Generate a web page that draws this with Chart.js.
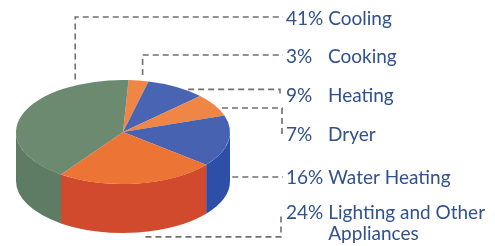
<!DOCTYPE html>
<html>
<head>
<meta charset="utf-8">
<script src="https://cdn.jsdelivr.net/npm/chart.js"></script>
<style>
  html, body { margin: 0; padding: 0; background: #fff; }
  #wrap { width: 495px; height: 246px; }
</style>
</head>
<body>
<div id="wrap"><canvas id="pie"></canvas></div>
<script>
// slices go clockwise starting near the top
const categories = ['Cooking', 'Heating', 'Dryer', 'Water Heating', ['Lighting and Other', 'Appliances'], 'Cooling'];
const shares = [3, 9, 7, 16, 24, 41];
const pctLabels = ['3%', '9%', '7%', '16%', '24%', '41%'];

const topColors = ['#ef8646', '#4964b2', '#ef8646', '#4762b0', '#ec7434', '#6b8a70'];
const sideColors = ['#e06a30', '#2f50a6', '#e06a30', '#2d4fa8', '#d14a2e', '#5e7c63'];

const TILT = 52 / 107;   // squash of the top face
const DEPTH = 49;        // height of the side wall

// where each label sits and how its leader line runs
const rows = [
    { base: 63,  frac: 0.7,  route: 'up' },
    { base: 102, frac: 0.65, route: 'tick' },
    { base: 141, frac: 0.65, route: 'down' },
    { base: 184, frac: 0.5,  route: 'side' },
    { base: 219, frac: 0.45, route: 'bottom' },
    { base: 25,  frac: 0.8,  route: 'up' }
];

function arcGeom(arc) {
    var p = arc.getProps(['x', 'y', 'startAngle', 'endAngle', 'outerRadius'], true);
    p.rx = p.outerRadius;
    p.ry = p.outerRadius * TILT;
    return p;
}

var pie3d = {
    id: 'pie3d',
    beforeDatasetsDraw: function(chart) {
        var ctx = chart.ctx;
        var arcs = chart.getDatasetMeta(0).data;
        // side walls, only the front half (0..PI) shows
        arcs.forEach(function(arc, i) {
            var p = arcGeom(arc);
            for (var k = -1; k <= 1; k++) {
                var a = Math.max(p.startAngle, 2 * Math.PI * k);
                var b = Math.min(p.endAngle, Math.PI + 2 * Math.PI * k);
                if (b <= a) continue;
                ctx.beginPath();
                ctx.ellipse(p.x, p.y, p.rx, p.ry, 0, a, b, false);
                ctx.ellipse(p.x, p.y + DEPTH, p.rx, p.ry, 0, b, a, true);
                ctx.closePath();
                ctx.fillStyle = sideColors[i];
                ctx.fill();
            }
        });
        // squash the pie the library draws next
        var c = arcGeom(arcs[0]);
        ctx.save();
        ctx.translate(c.x, c.y);
        ctx.scale(1, TILT);
        ctx.translate(-c.x, -c.y);
    },
    afterDatasetsDraw: function(chart) {
        chart.ctx.restore();
    },
    afterDraw: function(chart) {
        var ctx = chart.ctx;
        var arcs = chart.getDatasetMeta(0).data;

        ctx.save();
        ctx.setLineDash([6, 4]);
        ctx.strokeStyle = '#6f6f6f';
        ctx.lineWidth = 1.6;
        arcs.forEach(function(arc, i) {
            var p = arcGeom(arc);
            var r = rows[i];
            var t = p.startAngle + r.frac * (p.endAngle - p.startAngle);
            var px = p.x + p.rx * Math.cos(t);
            var py = p.y + p.ry * Math.sin(t);
            var mid = r.base - 7;
            ctx.beginPath();
            if (r.route == 'up') {
                ctx.moveTo(px, py - 6);
                ctx.lineTo(px, mid - 1);
                ctx.lineTo(283, mid - 1);
            } else if (r.route == 'tick') {
                ctx.moveTo(px + 4, py);
                ctx.lineTo(280, py);
                ctx.lineTo(280, mid);
            } else if (r.route == 'down') {
                ctx.moveTo(px + 4, py);
                ctx.lineTo(282, py);
                ctx.lineTo(282, mid);
            } else if (r.route == 'side') {
                ctx.moveTo(px + 4, mid);
                ctx.lineTo(283, mid);
            } else {
                var y = py + DEPTH + 5;
                ctx.moveTo(px, y);
                ctx.lineTo(281, y);
                ctx.lineTo(281, r.base - 5);
            }
            ctx.stroke();
        });
        ctx.restore();

        ctx.save();
        ctx.font = '19px Lato';
        ctx.fillStyle = '#30508f';
        ctx.textBaseline = 'alphabetic';
        categories.forEach(function(name, i) {
            var base = rows[i].base;
            ctx.fillText(pctLabels[i], 286, base);
            var nx = Math.max(328, 286 + ctx.measureText(pctLabels[i]).width + 5);
            var lines = Array.isArray(name) ? name : [name];
            lines.forEach(function(line, j) {
                ctx.fillText(line, nx, base + j * 21);
            });
        });
        ctx.restore();
    }
};

var ctx = document.getElementById('pie').getContext('2d');

var data = {
    labels: categories,
    datasets: [
        {
            data: shares,
            backgroundColor: topColors,
            borderWidth: 0,
            radius: 107
        }
    ]
};

var options = {
    responsive: true,
    maintainAspectRatio: false,
    animation: false,
    events: [],
    rotation: 3,
    layout: { padding: { left: 0, right: 249, top: 18, bottom: 0 } },
    plugins: {
        legend: { display: false },
        tooltip: { enabled: false }
    }
};

var pie = new Chart(ctx, {
    type: 'pie',
    data: data,
    options: options,
    plugins: [pie3d]
});
</script>
</body>
</html>
